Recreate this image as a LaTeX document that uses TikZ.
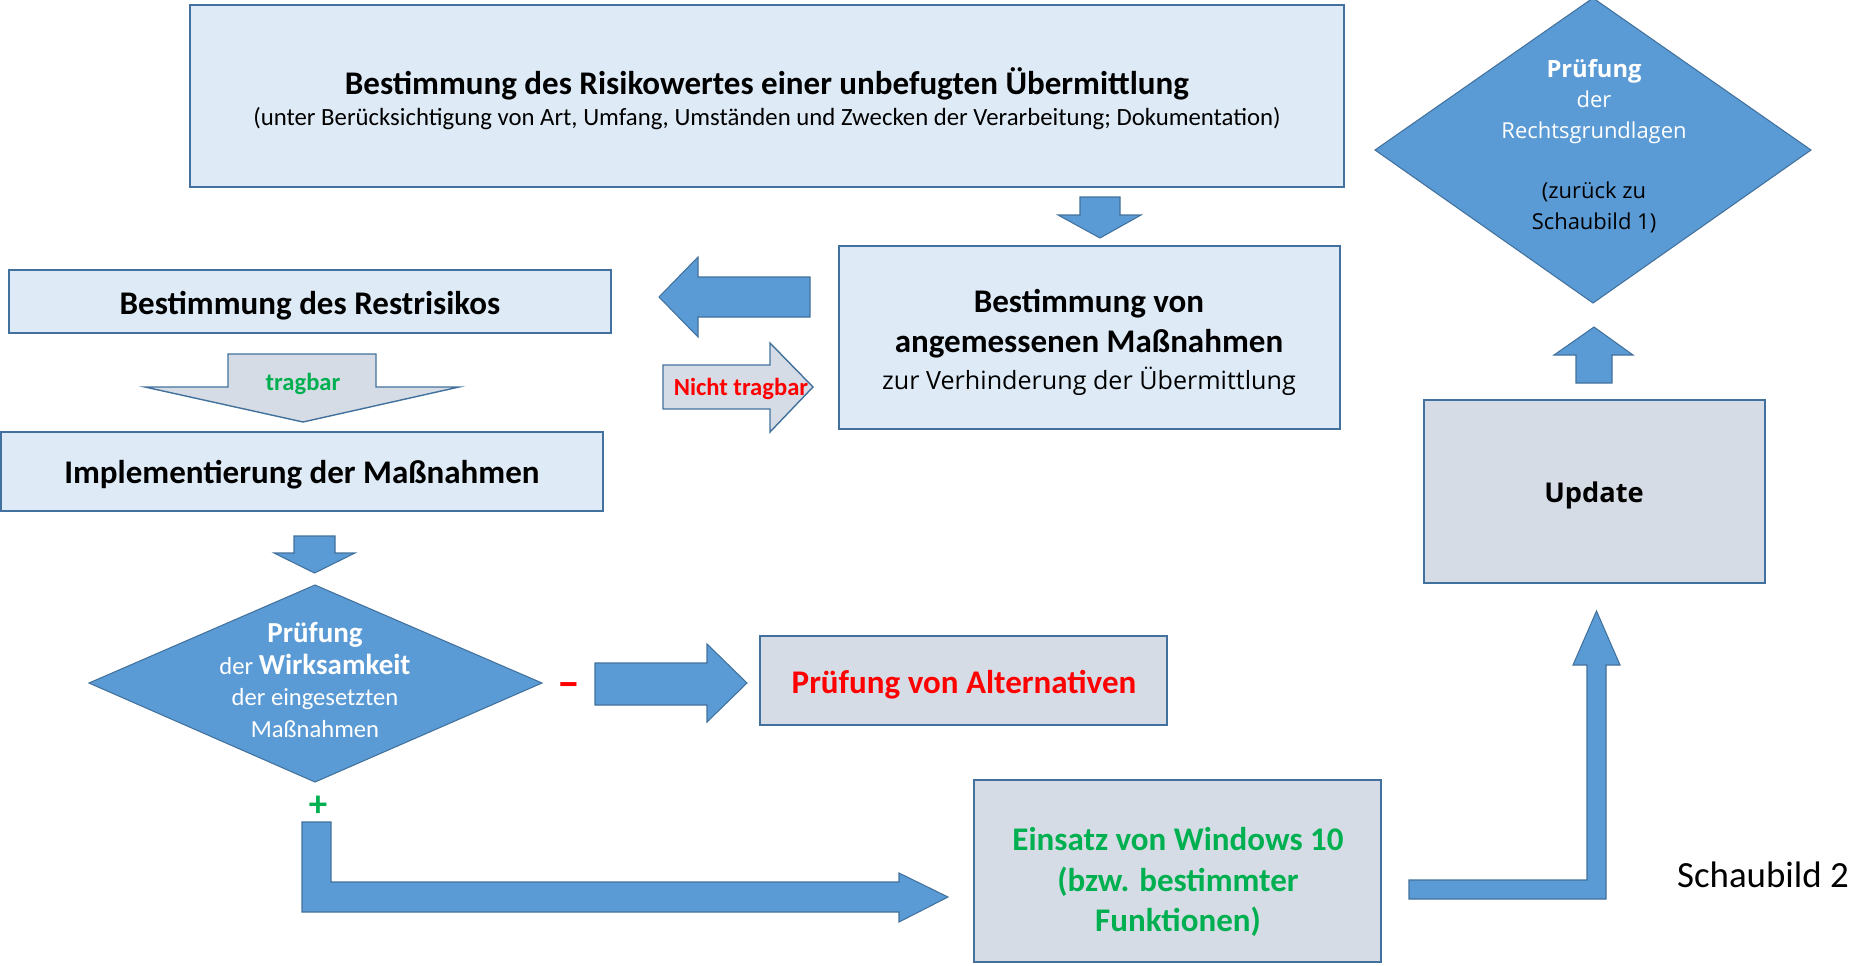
\documentclass[tikz,border=0pt]{standalone}
\usepackage{fontspec}
\setmainfont{Carlito}
\newfontfamily\segoe{Open Sans}
\usepackage{xcolor}
\usepackage{tikz}

\definecolor{boxfill}{HTML}{DEEBF7}
\definecolor{boxline}{HTML}{41719C}
\definecolor{accent}{HTML}{5B9BD5}
\definecolor{greyfill}{HTML}{D6DCE5}
\definecolor{okgreen}{HTML}{00B050}

\begin{document}
\begin{tikzpicture}[x=0.02cm,y=-0.02cm,
    box/.style={draw=boxline,fill=boxfill,line width=1.1pt},
    greybox/.style={draw=boxline,fill=greyfill,line width=1.1pt},
    bluearrow/.style={draw=boxline,fill=accent,line width=0.6pt},
    greyarrow/.style={draw=boxline,fill=greyfill,line width=0.8pt},
    big/.style={font=\bfseries\fontsize{18.8}{22.8}\selectfont}]
    \useasboundingbox (0,0) rectangle (1854,965);

    % Risk value box
    \draw[box] (190,5) rectangle (1344,187);
    \node[big] (risk) at (767,84) {Bestimmung des Risikowertes einer unbefugten Übermittlung};
    \node[font=\fontsize{14.1}{17}\selectfont] (riskSub) at (767,119) {(unter Berücksichtigung von Art, Umfang, Umständen und Zwecken der Verarbeitung; Dokumentation)};
    \draw[bluearrow] (1080,197) -- (1120,197) -- (1120,215) -- (1141,215) -- (1100,238) -- (1058,215) -- (1080,215) -- cycle;

    % Measures box
    \draw[box] (839,246) rectangle (1340,429);
    \node[big, align=center] (meas) at (1089,324) {Bestimmung von\\angemessenen Maßnahmen};
    \node[font=\segoe\fontsize{14.3}{17}\selectfont] (measSub) at (1089,381) {zur Verhinderung der Übermittlung};

    % Arrows between measures and residual risk
    \draw[bluearrow] (810,277) -- (698,277) -- (698,257) -- (659,297) -- (698,337) -- (698,317) -- (810,317) -- cycle;
    \draw[greyarrow] (663,365) -- (770,365) -- (770,343) -- (813,387) -- (770,432) -- (770,409) -- (663,409) -- cycle;
    \node[font=\bfseries\fontsize{14}{17}\selectfont, text=red] (nottol) at (741,389) {Nicht tragbar};

    % Residual risk
    \draw[box] (9,270) rectangle (611,333);
    \node[big] (rest) at (310,306) {Bestimmung des Restrisikos};
    \draw[greyarrow] (228,354) -- (376,354) -- (376,387) -- (459,387) -- (303,422) -- (145,387) -- (228,387) -- cycle;
    \node[font=\bfseries\fontsize{14}{17}\selectfont, text=okgreen] (tol) at (303,384) {tragbar};

    % Implementation
    \draw[box] (1,432) rectangle (603,511);
    \node[big] (impl) at (302,475) {Implementierung der Maßnahmen};
    \draw[bluearrow] (294,536) -- (335,536) -- (335,553) -- (355,553) -- (314.5,573) -- (274,553) -- (294,553) -- cycle;

    % Effectiveness check
    \draw[bluearrow] (315,585) -- (542,683) -- (315,782) -- (89,683) -- cycle;
    \node[font=\fontsize{14}{18.2}\selectfont, text=white, align=center] (check) at (315,680)
        {{\bfseries\fontsize{16.5}{18.2}\selectfont Prüfung}\\der {\bfseries\fontsize{16.5}{18.2}\selectfont Wirksamkeit}\\der eingesetzten\\Maßnahmen};
    \node[font=\bfseries\fontsize{26}{28}\selectfont, text=red] (minus) at (569,690) {–};
    \node[font=\bfseries\fontsize{21}{24}\selectfont, text=okgreen] (plus) at (318,806) {+};

    % Alternatives
    \draw[bluearrow] (595,663) -- (707,663) -- (707,644) -- (747,683) -- (707,722) -- (707,705) -- (595,705) -- cycle;
    \draw[greybox] (760,636) rectangle (1167,725);
    \node[big, text=red] (alt) at (964,685) {Prüfung von Alternativen};

    % Windows 10
    \draw[bluearrow] (302,822) -- (331,822) -- (331,882) -- (899,882) -- (899,873) -- (948,897) -- (899,922) -- (899,912) -- (302,912) -- cycle;
    \draw[greybox] (974,780) rectangle (1381,962);
    \node[text=okgreen, align=center, font=\bfseries\fontsize{18.8}{23}\selectfont] (win) at (1178,882) {Einsatz von Windows 10\\(bzw. bestimmter\\Funktionen)};
    \draw[bluearrow] (1409,880) -- (1587,880) -- (1587,665) -- (1573,665) -- (1596.5,611) -- (1620,665) -- (1606,665) -- (1606,899) -- (1409,899) -- cycle;

    % Update
    \draw[greybox] (1424,400) rectangle (1765,583);
    \node[font=\segoe\bfseries\fontsize{15.5}{18}\selectfont] (upd) at (1594,495) {Update};
    \draw[bluearrow] (1576,383) -- (1576,355) -- (1554,355) -- (1594,327) -- (1633,355) -- (1612,355) -- (1612,383) -- cycle;

    % Legal basis
    \draw[bluearrow] (1593,-2) -- (1811,150) -- (1593,303) -- (1375,150) -- cycle;
    \node[font=\segoe\fontsize{12.5}{17.3}\selectfont, text=white, align=center] (law) at (1594,146)
        {{\bfseries\fontsize{13.5}{17.3}\selectfont Prüfung}\\der\\Rechtsgrundlagen\\[17.3pt]\textcolor{black}{(zurück zu}\\\textcolor{black}{Schaubild 1)}};

    \node[font=\fontsize{21}{24}\selectfont] (fig) at (1763,875) {Schaubild 2};
\end{tikzpicture}
\end{document}
